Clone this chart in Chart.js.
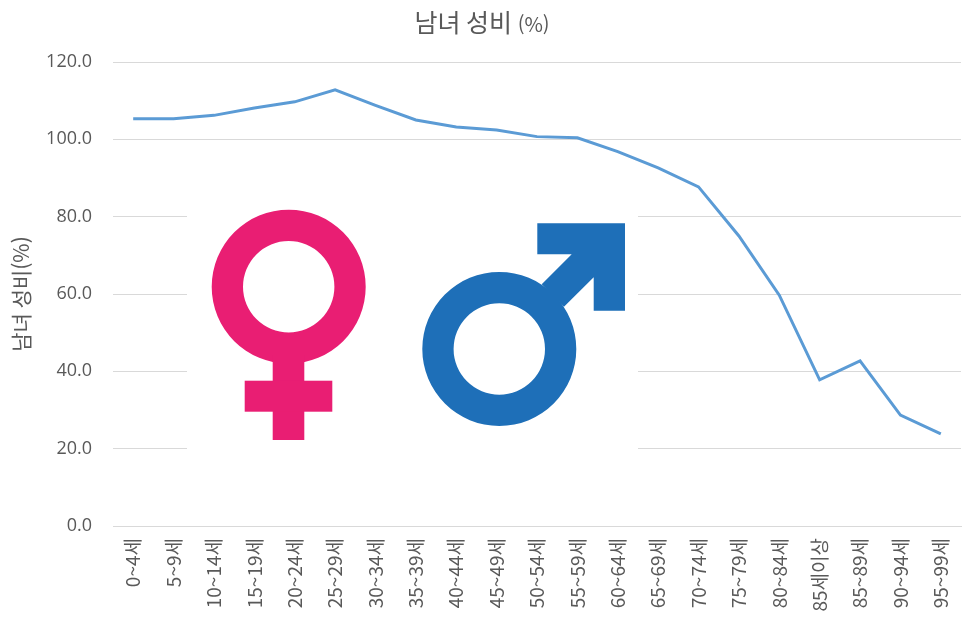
<!DOCTYPE html>
<html lang="ko">
<head>
<meta charset="utf-8">
<title>남녀 성비 (%)</title>
<script src="https://cdn.jsdelivr.net/npm/chart.js@4"></script>
<style>
  html, body { margin: 0; padding: 0; background: #fff; }
  canvas { display: block; }
</style>
</head>
<body>
<canvas id="chart-ratio" width="967" height="629"></canvas>
<script>
const categories = ['0~4세', '5~9세', '10~14세', '15~19세', '20~24세', '25~29세', '30~34세',
    '35~39세', '40~44세', '45~49세', '50~54세', '55~59세', '60~64세', '65~69세', '70~74세',
    '75~79세', '80~84세', '85세이상', '85~89세', '90~94세', '95~99세'];
const ratioValues = [105.3, 105.3, 106.2, 108.1, 109.7, 112.8, 108.8, 105.0, 103.2, 102.4, 100.7,
    100.4, 96.8, 92.6, 87.7, 75.0, 59.7, 37.8, 42.7, 28.7, 23.8];
const titleMain = '남녀 성비';
const titleUnit = '(%)';
const yAxisTitle = '남녀 성비(%)';

const textColor = '#595959';
const gridColor = '#d9d9d9';
const krFont = "'Noto Sans CJK KR', 'Noto Sans', sans-serif";

// the title has two font sizes, chart.js title can only do one
const titlePlugin = {
    id: 'mixedTitle',
    afterDraw(chart) {
        const c = chart.ctx;
        c.save();
        c.fillStyle = textColor;
        c.textBaseline = 'alphabetic';
        c.font = '25px ' + krFont;
        const mainWidth = c.measureText(titleMain + ' ').width;
        c.font = '20px ' + krFont;
        const unitWidth = c.measureText(titleUnit).width;
        const left = 482 - (mainWidth + unitWidth) / 2;
        c.fillText(titleUnit, left + mainWidth, 32);
        c.font = '25px ' + krFont;
        c.fillText(titleMain, left, 32);
        c.restore();
    }
};

// pasted picture of the two symbols, sits over the gridlines
const symbolsPlugin = {
    id: 'symbols',
    beforeDatasetsDraw(chart) {
        const c = chart.ctx;
        c.save();
        c.fillStyle = '#fff';
        c.fillRect(187, 190, 451, 270);

        c.fillStyle = '#e91e73';
        c.beginPath();
        c.arc(288.7, 286.7, 77, 0, Math.PI * 2);
        c.arc(288.7, 286.7, 45.7, 0, Math.PI * 2, true);
        c.fill();
        c.fillRect(272.7, 355, 31.6, 85);
        c.fillRect(244.7, 380.7, 87.6, 31);

        c.fillStyle = '#1e6fb8';
        c.beginPath();
        c.arc(499.3, 349, 77, 0, Math.PI * 2);
        c.arc(499.3, 349, 45.7, 0, Math.PI * 2, true);
        c.fill();
        c.beginPath();
        c.moveTo(537.3, 223.3);
        c.lineTo(625, 223.3);
        c.lineTo(625, 310.7);
        c.lineTo(593.7, 310.7);
        c.lineTo(593.7, 277.3);
        c.lineTo(564, 306.7);
        c.lineTo(541.7, 284.3);
        c.lineTo(571.7, 254.3);
        c.lineTo(537.3, 254.3);
        c.closePath();
        c.fill();
        c.restore();
    }
};

const ctx = document.getElementById('chart-ratio').getContext('2d');
const chart = new Chart(ctx, {
    type: 'line',
    data: {
        labels: categories,
        datasets: [{
            label: '남녀 성비',
            data: ratioValues,
            borderColor: '#5b9bd5',
            backgroundColor: '#5b9bd5',
            borderWidth: 3,
            pointRadius: 0,
            tension: 0
        }]
    },
    options: {
        responsive: false,
        animation: false,
        layout: { padding: { top: 62, right: 6, left: 0, bottom: 0 } },
        scales: {
            x: {
                offset: true,
                afterFit(scale) {
                    scale.height = 103;
                    scale.paddingLeft = 0;
                    scale.paddingRight = 0;
                },
                grid: { display: false, drawTicks: false, offset: true },
                border: { color: gridColor, width: 1 },
                ticks: {
                    color: textColor,
                    font: { family: krFont, size: 19 },
                    minRotation: 90,
                    maxRotation: 90,
                    autoSkip: false,
                    padding: 12
                }
            },
            y: {
                min: 0,
                max: 120,
                afterFit(scale) { scale.width = 113; },
                grid: { color: gridColor, drawTicks: false },
                border: { display: false },
                ticks: {
                    stepSize: 20,
                    color: textColor,
                    font: { family: "'Open Sans', sans-serif", size: 18 },
                    padding: 21,
                    callback: value => value.toFixed(1)
                },
                title: {
                    display: true,
                    text: yAxisTitle,
                    color: textColor,
                    font: { family: krFont, size: 21 },
                    padding: { top: 8, bottom: 0 }
                }
            }
        },
        plugins: {
            legend: { display: false },
            tooltip: { enabled: false },
            title: { display: false }
        }
    },
    plugins: [symbolsPlugin, titlePlugin]
});
</script>
</body>
</html>
